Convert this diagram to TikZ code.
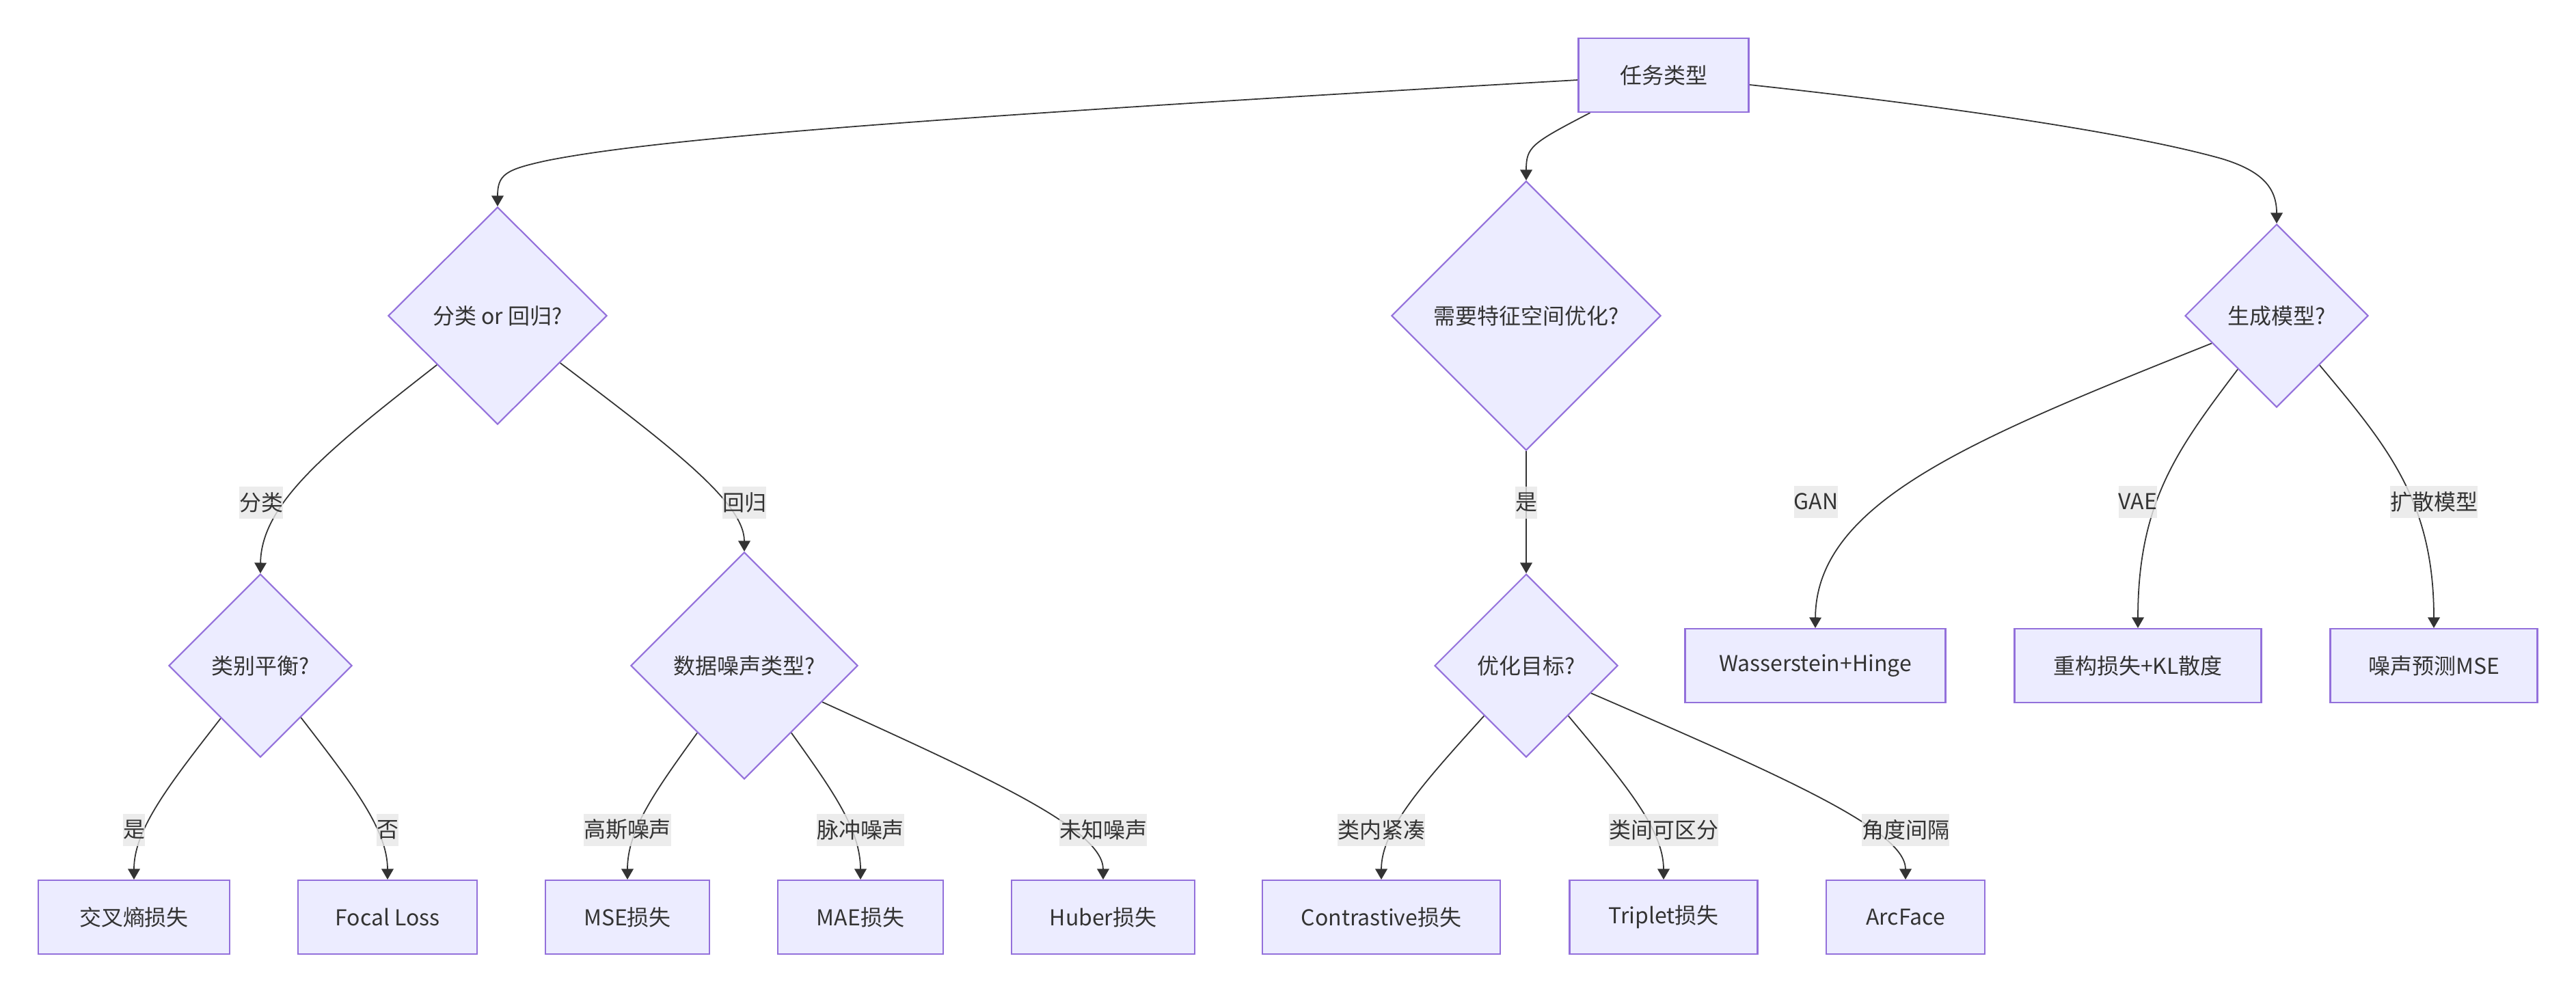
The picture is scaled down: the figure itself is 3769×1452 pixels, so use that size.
\documentclass[tikz,border=0pt]{standalone}
\usepackage{fontspec}
\setmainfont{Noto Sans CJK SC}
\usepackage{xcolor}
\usetikzlibrary{shapes.geometric, arrows.meta, calc, backgrounds}

\definecolor{nodefill}{HTML}{ECECFF}
\definecolor{nodeline}{HTML}{9370DB}
\definecolor{edgeline}{HTML}{333333}
\definecolor{labelbg}{HTML}{E8E8E8}
\newcommand{\nodefont}{\fontsize{9.1pt}{11pt}\selectfont}

\tikzset{
  proc/.style={draw=nodeline, fill=nodefill, rectangle, line width=0.6pt, minimum height=10.8mm, inner sep=0pt, text=edgeline, font=\nodefont},
  decide/.style={draw=nodeline, fill=nodefill, diamond, aspect=1, line width=0.6pt, inner sep=0pt, text=edgeline, font=\nodefont},
  elabel/.style={fill=labelbg, fill opacity=0.8, text opacity=1, text=edgeline, inner xsep=0pt, inner ysep=0pt, minimum height=4.7mm, font=\nodefont},
  flow/.style={draw=edgeline, line width=0.5pt, -{Triangle[length=1.55mm, width=1.75mm]}}
}

\begin{document}
\begin{tikzpicture}[x=0.1mm, y=-0.1mm]
    \useasboundingbox (0,0) rectangle (3769,1452);

    % Root
    \node[proc, minimum width=24.9mm] (task) at (2434,110) {任务类型};

    % First level decisions
    \node[decide, minimum width=32mm, minimum height=31.8mm] (clsreg) at (728,462) {分类 or 回归?};
    \node[decide, minimum width=39.4mm, minimum height=39.4mm] (feat) at (2233,462) {需要特征空间优化?};
    \node[decide, minimum width=26.8mm, minimum height=26.8mm] (gen) at (3331,462) {生成模型?};

    % Second level decisions
    \node[decide, minimum width=26.8mm, minimum height=26.8mm] (bal) at (381,974) {类别平衡?};
    \node[decide, minimum width=33.2mm, minimum height=33.2mm] (noise) at (1089,974) {数据噪声类型?};
    \node[decide, minimum width=26.8mm, minimum height=26.8mm] (goal) at (2233,974) {优化目标?};

    % Generative losses
    \node[proc, minimum width=38.1mm] (wgan) at (2656,974) {Wasserstein+Hinge};
    \node[proc, minimum width=36.1mm] (vae) at (3128,974) {重构损失+KL散度};
    \node[proc, minimum width=30.3mm] (diff) at (3561,974) {噪声预测MSE};

    % Bottom row losses
    \node[proc, minimum width=28mm] (ce) at (196,1342) {交叉熵损失};
    \node[proc, minimum width=26.2mm] (focal) at (567,1342) {Focal Loss};
    \node[proc, minimum width=24mm] (mse) at (918,1342) {MSE损失};
    \node[proc, minimum width=24.2mm] (mae) at (1259,1342) {MAE损失};
    \node[proc, minimum width=26.8mm] (huber) at (1614,1342) {Huber损失};
    \node[proc, minimum width=34.8mm] (contr) at (2021,1342) {Contrastive损失};
    \node[proc, minimum width=27.5mm] (trip) at (2434,1342) {Triplet损失};
    \node[proc, minimum width=23.2mm] (arc) at (2788,1342) {ArcFace};

    % Edge labels
    \node[elabel] (lcls) at (382,735) {分类};
    \node[elabel] (lreg) at (1089,735) {回归};
    \node[elabel] (lfeat) at (2233,735) {是};
    \node[elabel] (lgan) at (2657,734) {GAN};
    \node[elabel] (lvae) at (3128,734) {VAE};
    \node[elabel] (ldiff) at (3561,734) {扩散模型};
    \node[elabel] (lyes) at (196,1214) {是};
    \node[elabel] (lno) at (567,1214) {否};
    \node[elabel] (lgauss) at (918,1214) {高斯噪声};
    \node[elabel] (limp) at (1259,1214) {脉冲噪声};
    \node[elabel] (lunk) at (1614,1214) {未知噪声};
    \node[elabel] (lintra) at (2021,1214) {类内紧凑};
    \node[elabel] (linter) at (2434,1214) {类间可区分};
    \node[elabel] (langle) at (2788,1214) {角度间隔};

    \begin{scope}[on background layer]
    \fill[white] (0,0) rectangle (3769,1452);

    % From the root
    \draw[flow] ([yshift=-0.7mm]task.west) .. controls (1300,175) and (950,205) .. (800,235) .. controls (740,248) and (728,255) .. (clsreg.north);
    \draw[flow] ([xshift=1.8mm]task.south west) .. controls (2240,210) and (2233,215) .. (feat.north);
    \draw[flow] ([yshift=-1.4mm]task.east) .. controls (2800,150) and (3100,190) .. (3250,232) .. controls (3310,250) and (3331,275) .. (gen.north);

    % First level
    \draw[flow] (clsreg.219) .. controls ($(clsreg.219)!0.6!(lcls.center)$) and (lcls.center) .. (bal.north);
    \draw[flow] (clsreg.323) .. controls ($(clsreg.323)!0.6!(lreg.center)$) and (lreg.center) .. (noise.north);
    \draw[flow] (feat.south) -- (goal.north);
    \draw[flow] (gen.203) .. controls ($(gen.203)!0.6!(lgan.center)$) and (lgan.center) .. (wgan.north);
    \draw[flow] (gen.234) .. controls ($(gen.234)!0.6!(lvae.center)$) and (lvae.center) .. (vae.north);
    \draw[flow] (gen.311) .. controls ($(gen.311)!0.6!(ldiff.center)$) and (ldiff.center) .. (diff.north);

    % Second level
    \draw[flow] (bal.233) .. controls ($(bal.233)!0.6!(lyes.center)$) and (lyes.center) .. (ce.north);
    \draw[flow] (bal.308) .. controls ($(bal.308)!0.6!(lno.center)$) and (lno.center) .. (focal.north);
    \draw[flow] (noise.235) .. controls ($(noise.235)!0.6!(lgauss.center)$) and (lgauss.center) .. (mse.north);
    \draw[flow] (noise.305) .. controls ($(noise.305)!0.6!(limp.center)$) and (limp.center) .. (mae.north);
    \draw[flow] (noise.335) .. controls ($(noise.335)!0.6!(lunk.center)$) and (lunk.center) .. (huber.north);
    \draw[flow] (goal.230) .. controls ($(goal.230)!0.6!(lintra.center)$) and (lintra.center) .. (contr.north);
    \draw[flow] (goal.310) .. controls ($(goal.310)!0.6!(linter.center)$) and (linter.center) .. (trip.north);
    \draw[flow] (goal.337) .. controls ($(goal.337)!0.6!(langle.center)$) and (langle.center) .. (arc.north);
    \end{scope}
\end{tikzpicture}
\end{document}
